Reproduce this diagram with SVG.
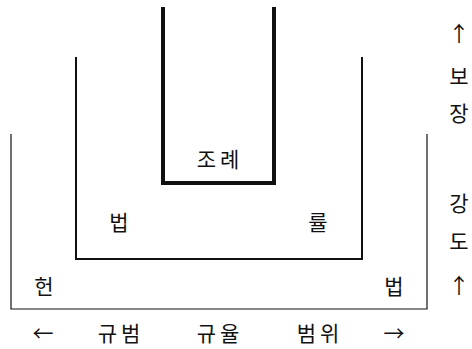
<svg xmlns="http://www.w3.org/2000/svg" width="472" height="349" viewBox="0 0 472 349">
<style>
text{font-family:"Noto Sans CJK KR","Noto Sans",sans-serif;font-size:21px;fill:#111;text-anchor:middle;dominant-baseline:central}
.w{letter-spacing:4px}
.u{fill:none;stroke:#111;stroke-linejoin:miter}
</style>
<rect width="472" height="349" fill="#fff"/>
<g id="outer">
<path class="u" stroke-width="1.2" d="M11,134 V309 H427 V134"/>
<text x="44" y="285">헌</text>
<text x="394" y="285">법</text>
</g>
<g id="middle">
<path class="u" stroke-width="2" d="M76,57 V259 H362 V57"/>
<text x="119" y="221">법</text>
<text x="318" y="221">률</text>
</g>
<g id="inner">
<path class="u" stroke-width="4" d="M163,7 V183 H274 V7"/>
<text class="w" x="220" y="158">조례</text>
</g>
<g id="axis-bottom">
<text x="43" y="332">←</text>
<text class="w" x="121" y="332">규범</text>
<text class="w" x="220" y="332">규율</text>
<text class="w" x="320" y="332">범위</text>
<text x="394" y="332">→</text>
</g>
<g id="axis-right">
<text x="459" y="32">↑</text>
<text x="459" y="75">보</text>
<text x="459" y="112">장</text>
<text x="459" y="202">강</text>
<text x="459" y="240">도</text>
<text x="459" y="284">↑</text>
</g>
</svg>
